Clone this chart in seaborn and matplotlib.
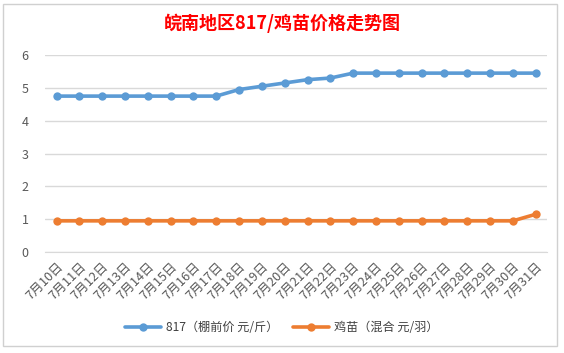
import pandas as pd
import matplotlib.pyplot as plt
import seaborn as sns
from matplotlib.patches import Rectangle

# chart values
days = ['7月%d日' % d for d in range(10, 32)]
price_817 = [4.75, 4.75, 4.75, 4.75, 4.75, 4.75, 4.75, 4.75,
             4.95, 5.05, 5.15, 5.25, 5.3,
             5.45, 5.45, 5.45, 5.45, 5.45, 5.45, 5.45, 5.45, 5.45]
price_chick = [0.95] * 21 + [1.15]
series_names = ['817（棚前价 元/斤）', '鸡苗（混合 元/羽）']
colors = ['#5B9BD5', '#ED7D31']

sns.set_style('white')
plt.rcParams['font.family'] = ['Noto Sans CJK SC', 'DejaVu Sans']

df = pd.DataFrame({
    'day': list(range(len(days))) * 2,
    'price': price_817 + price_chick,
    'series': [series_names[0]] * len(days) + [series_names[1]] * len(days),
})

fig = plt.figure(figsize=(5.64, 3.53), dpi=100)
ax = fig.add_axes([0.08, 0.286, 0.89, 0.558])

sns.lineplot(data=df, x='day', y='price', hue='series', palette=colors,
             marker='o', markersize=6, markeredgewidth=0, linewidth=2.6,
             ax=ax)

# chart frame like the Excel chart area
fig.patches.append(Rectangle((0.006, 0.02), 0.982, 0.97, transform=fig.transFigure,
                             fill=False, edgecolor='#D0D0D0', linewidth=1))

ax.set_ylim(0, 6)
ax.set_xlim(-0.5, len(days) - 0.5)
ax.set_yticks(range(0, 7))
ax.yaxis.grid(True, color='#D9D9D9', linewidth=1)
ax.set_xticks(range(len(days)))
ax.set_xticklabels(days, rotation=45, ha='right', rotation_mode='anchor',
                   fontsize=9.2, color='#595959')
ax.set_xticks([i - 0.5 for i in range(len(days) + 1)], minor=True)
ax.tick_params(axis='x', which='major', length=0, pad=6)
ax.tick_params(axis='x', which='minor', length=4, color='#D9D9D9', width=1)
ax.tick_params(axis='y', length=0, labelsize=9, labelcolor='#595959', pad=12)
for s in ['top', 'right', 'left']:
    ax.spines[s].set_visible(False)
ax.spines['bottom'].set_color('#D9D9D9')
ax.set_xlabel('')
ax.set_ylabel('')

fig.text(0.5, 0.935, '皖南地区817/鸡苗价格走势图', ha='center', va='center',
         fontsize=13, fontweight='bold', color='#FF0000')

handles, labels = ax.get_legend_handles_labels()
ax.legend(handles, labels, loc='center', bbox_to_anchor=(0.5, 0.073),
          bbox_transform=fig.transFigure, ncol=2, frameon=False,
          fontsize=8.7, handlelength=3, columnspacing=1.2, handletextpad=0.4,
          labelcolor='#404040')

fig.savefig('out.png', dpi=100)
